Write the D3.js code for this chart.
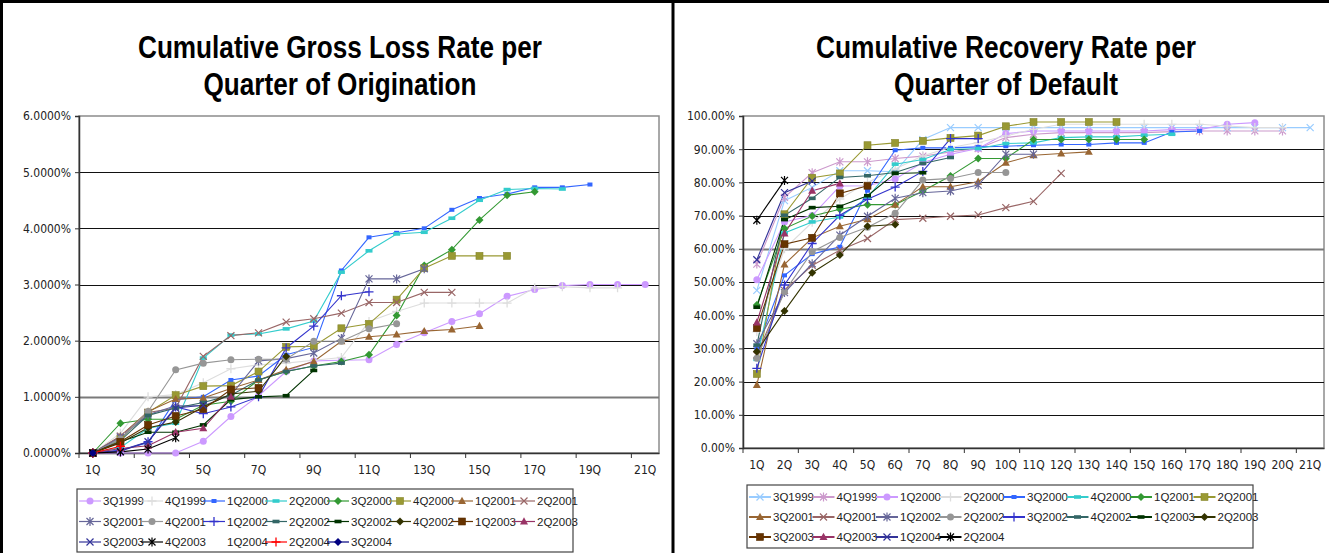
<!DOCTYPE html>
<html><head><meta charset="utf-8">
<script src="https://cdn.jsdelivr.net/npm/d3@7"></script>
<style>body{margin:0;background:#fff;} svg{display:block;}</style>
</head><body><svg id="c" width="1329" height="553"></svg>
<script>
// ---------------- DATA ----------------
const quarters = d3.range(1, 22).map(i => i + "Q");
const lossTickLabels = ["1Q","3Q","5Q","7Q","9Q","11Q","13Q","15Q","17Q","19Q","21Q"];
const lossYTicks = [0,1,2,3,4,5,6];
const recYTicks = [0,10,20,30,40,50,60,70,80,90,100];

// Cumulative gross loss rate (%) per quarter of origination
const gl3Q1999 = [0,0,0,0,0.21,0.65,1.02,1.45,1.64,1.65,1.66,1.93,2.14,2.34,2.48,2.79,2.91,2.98,3.0,3.0,3.0];
const gl4Q1999 = [0,0.35,1.0,1.04,1.25,1.5,1.57,1.6,1.65,1.7,2.34,2.52,2.67,2.67,2.67,2.67,2.94,2.96,2.94,2.94];
const gl1Q2000 = [0,0.05,0.18,0.95,1.0,1.3,1.37,1.75,1.88,3.25,3.84,3.92,4.0,4.33,4.54,4.61,4.73,4.73,4.78];
const gl2Q2000 = [0,0.1,0.44,0.53,1.69,2.1,2.12,2.21,2.35,3.22,3.6,3.9,3.93,4.18,4.5,4.69,4.71,4.7];
const gl3Q2000 = [0,0.53,0.6,0.6,0.85,0.92,1.3,1.45,1.55,1.63,1.75,2.45,3.34,3.62,4.15,4.59,4.65];
const gl4Q2000 = [0,0.25,0.72,1.03,1.19,1.2,1.45,1.89,1.9,2.22,2.3,2.73,3.29,3.51,3.51,3.51];
const gl1Q2001 = [0,0.3,0.74,0.96,0.98,1.15,1.3,1.48,1.63,1.99,2.07,2.11,2.17,2.2,2.26];
const gl2Q2001 = [0,0.3,0.72,0.8,1.72,2.09,2.14,2.33,2.39,2.49,2.68,2.68,2.86,2.86];
const gl3Q2001 = [0,0.28,0.68,0.84,0.84,1.03,1.64,1.68,1.78,2.04,3.1,3.1,3.28];
const gl4Q2001 = [0,0.25,0.74,1.48,1.6,1.66,1.67,1.67,1.99,1.99,2.21,2.3];
const gl1Q2002 = [0,0.05,0.2,0.82,0.7,0.82,1.0,1.87,2.26,2.8,2.87];
const gl2Q2002 = [0,0.22,0.67,0.8,0.9,1.03,1.3,1.45,1.55,1.6];
const gl3Q2002 = [0,0.2,0.37,0.37,0.5,0.95,1.0,1.02,1.47];
const gl4Q2002 = [0,0.18,0.45,0.55,0.82,1.05,1.1,1.72];
const gl1Q2003 = [0,0.2,0.5,0.66,0.78,1.13,1.16];
const gl2Q2003 = [0,0.08,0.13,0.37,0.44,1.0];
const gl3Q2003 = [0,0.03,0.2,0.8,0.85];
const gl4Q2003 = [0,0.02,0.07,0.27];
const gl1Q2004 = [0,0.02];
const gl2Q2004 = [0,0.12];
const gl3Q2004 = [0];

const lossNames = ["3Q1999","4Q1999","1Q2000","2Q2000","3Q2000","4Q2000","1Q2001","2Q2001",
  "3Q2001","4Q2001","1Q2002","2Q2002","3Q2002","4Q2002","1Q2003","2Q2003",
  "3Q2003","4Q2003","1Q2004","2Q2004","3Q2004"];
const lossValues = [gl3Q1999,gl4Q1999,gl1Q2000,gl2Q2000,gl3Q2000,gl4Q2000,gl1Q2001,gl2Q2001,
  gl3Q2001,gl4Q2001,gl1Q2002,gl2Q2002,gl3Q2002,gl4Q2002,gl1Q2003,gl2Q2003,
  gl3Q2003,gl4Q2003,gl1Q2004,gl2Q2004,gl3Q2004];

// Cumulative recovery rate (%) per quarter of default
const rr3Q1999 = [47.5,74.5,78.5,83.5,83.5,83.2,92.9,96.5,96.5,96.5,96.5,96.5,96.5,96.5,96.5,96.5,96.5,96.5,96.5,96.5,96.5];
const rr4Q1999 = [55.4,75.5,82.9,86.2,86.2,87.2,87.9,89.2,90.2,93.5,94.5,95,95,95,95,95.3,95.5,95.5,95.5,95.5];
const rr1Q2000 = [50.7,68.1,70,78.9,79,81,86,88.5,90.2,94.7,95.5,95.5,95.5,95.5,95.5,95.9,95.9,97.5,98];
const rr2Q2000 = [35,60,68,75,80,84,88,90.5,92,94,96,97.5,97.5,97.5,97.5,97.5,97.5,97,96.5,96.5];
const rr3Q2000 = [30,52,58.4,60.6,77.5,89.7,90.4,90.4,90.7,90.9,91.2,91.4,91.4,91.9,91.9,95.2,95.5];
const rr4Q2000 = [26.7,64.8,68.1,69.6,75.4,85.5,86.9,89.9,90.2,91.7,91.9,93.5,93.7,93.7,94.2,94.5];
const rr1Q2001 = [43.1,66.1,69.9,71.9,73.3,73.3,77.4,81.9,87.2,87.2,92.9,92.9,92.9,92.9,92.9];
const rr2Q2001 = [22.3,70.4,81.4,82.7,91.2,91.9,92.5,93.4,94.1,96.9,98.2,98.2,98.2,98.2];
const rr3Q2001 = [19,55.3,63.3,66.8,68.9,73.3,78.7,78.7,80.2,85.9,88.2,88.7,89.2];
const rr4Q2001 = [28,47.5,55,59.6,63.1,68.8,69.2,69.8,70.2,72.4,74.3,82.7];
const rr1Q2002 = [31.4,46.8,55.5,64.1,69.8,75.2,76.9,77.4,79.2,88.5,88.5];
const rr2Q2002 = [27,47.1,59.1,63.4,66.5,70.7,80.7,81.2,83,83];
const rr3Q2002 = [24,49.1,61.6,70.1,74.9,78.6,83.3,93.2,93.2];
const rr4Q2002 = [31,70.1,75.2,81.5,82,83,85.7,87.5];
const rr1Q2003 = [42.4,68.8,72.4,72.8,76,82.7,82.9];
const rr2Q2003 = [29.1,41.3,52.8,58.1,66.8,67.3];
const rr3Q2003 = [36.1,61.4,63.3,76.7,79];
const rr4Q2003 = [37.8,64.6,77.5,79.7];
const rr1Q2004 = [56.7,76.9,80.4];
const rr2Q2004 = [68.6,80.6];

const recNames = ["3Q1999","4Q1999","1Q2000","2Q2000","3Q2000","4Q2000","1Q2001","2Q2001",
  "3Q2001","4Q2001","1Q2002","2Q2002","3Q2002","4Q2002","1Q2003","2Q2003",
  "3Q2003","4Q2003","1Q2004","2Q2004"];
const recValues = [rr3Q1999,rr4Q1999,rr1Q2000,rr2Q2000,rr3Q2000,rr4Q2000,rr1Q2001,rr2Q2001,
  rr3Q2001,rr4Q2001,rr1Q2002,rr2Q2002,rr3Q2002,rr4Q2002,rr1Q2003,rr2Q2003,
  rr3Q2003,rr4Q2003,rr1Q2004,rr2Q2004];

// ---------------- STYLES ----------------
const lossStyle = [
  ["#CC99FF","circle"],["#DDDDDD","plus"],["#3366FF","sq"],["#33CCCC","dash"],
  ["#339933","diamond"],["#999933","square"],["#996633","triangle"],["#996666","x"],
  ["#666699","star"],["#969696","circle"],["#3333CC","plus"],["#336666","dash"],
  ["#003300","dash"],["#333300","diamond"],["#663300","square"],["#993366","triangle"],
  ["#333399","x"],["#000000","star"],["none","none"],["#FF0000","plus"],["#000080","diamond"]
];
const recStyle = [
  ["#99CCFF","x"],["#CC99CC","star"],["#CC99FF","circle"],["#DDDDDD","plus"],
  ["#3366FF","sq"],["#33CCCC","dash"],["#339933","diamond"],["#999933","square"],
  ["#996633","triangle"],["#996666","x"],["#666699","star"],["#969696","circle"],
  ["#3333CC","plus"],["#336666","dash"],["#003300","dash"],["#333300","diamond"],
  ["#663300","square"],["#993366","triangle"],["#333399","x"],["#000000","star"]
];

const svg = d3.select("#c");
const TITLE_FONT = "'Liberation Sans','Arial',sans-serif";
const LABEL_FONT = "'DejaVu Sans Condensed','Liberation Sans Narrow','Arial Narrow',sans-serif";
const LEG_FONT = "'Liberation Sans','Arial',sans-serif";

function drawMarker(g, type, color) {
  if (type === "none" || color === "none") return;
  if (type === "circle") g.append("circle").attr("r", 3.5).attr("fill", color);
  else if (type === "square") g.append("rect").attr("x",-3.5).attr("y",-3.5).attr("width",7).attr("height",7)
      .attr("fill", color).attr("stroke", d3.color(color).darker(0.4)).attr("stroke-width",0.6);
  else if (type === "sq") g.append("rect").attr("x",-2.5).attr("y",-2).attr("width",5).attr("height",4).attr("fill", color);
  else if (type === "dash") g.append("rect").attr("x",-3.5).attr("y",-1.8).attr("width",7).attr("height",3.6).attr("fill", color);
  else if (type === "diamond") g.append("path").attr("d","M0,-4L4,0L0,4L-4,0Z").attr("fill", color);
  else if (type === "triangle") g.append("path").attr("d","M0,-4.2L4,3L-4,3Z").attr("fill", color);
  else if (type === "plus") g.append("path").attr("d","M-4.5,0H4.5M0,-4.5V4.5").attr("stroke", color).attr("stroke-width",1.3);
  else if (type === "x") g.append("path").attr("d","M-3.5,-3.5L3.5,3.5M-3.5,3.5L3.5,-3.5").attr("stroke", color).attr("stroke-width",1.2);
  else if (type === "star") g.append("path").attr("d","M-3.5,-3.5L3.5,3.5M-3.5,3.5L3.5,-3.5M0,-4.5V4.5").attr("stroke", color).attr("stroke-width",1.2);
}

function drawChart(cfg) {
  const g = svg.append("g");
  const x = d3.scaleBand().domain(quarters).range([cfg.left, cfg.right]).padding(0);
  const y = d3.scaleLinear().domain(cfg.domain).range([cfg.bottom, cfg.top]);
  const bw = x.bandwidth();

  // plot area border
  g.append("rect").attr("x", cfg.left).attr("y", cfg.top)
    .attr("width", cfg.right - cfg.left).attr("height", cfg.bottom - cfg.top)
    .attr("fill", "none").attr("stroke", "#8c8c8c").attr("stroke-width", 1.5);

  // gridlines
  cfg.yTicks.filter(t => t > cfg.domain[0] && t < cfg.domain[1]).forEach(t => {
    const special = t === cfg.special;
    g.append("line").attr("x1", cfg.left).attr("x2", cfg.right)
      .attr("y1", Math.round(y(t)) + 0.5).attr("y2", Math.round(y(t)) + 0.5)
      .attr("stroke", special ? "#7a7a7a" : "#111").attr("stroke-width", special ? 2.2 : 1);
  });

  // y axis
  const ya = d3.axisLeft(y).tickValues(cfg.yTicks).tickSize(4).tickPadding(4).tickFormat(cfg.fmt);
  const yg = g.append("g").attr("transform", `translate(${cfg.left},0)`).call(ya);
  yg.select(".domain").attr("stroke", "#333").attr("stroke-width", 1.5);
  yg.selectAll(".tick line").attr("stroke", "#333");
  yg.selectAll("text").attr("font-family", LABEL_FONT).attr("font-size", cfg.yFont).attr("fill", "#222");

  // x axis labels
  const xa = d3.axisBottom(x).tickValues(cfg.xLabels).tickSize(0).tickPadding(cfg.xPad);
  const xg = g.append("g").attr("transform", `translate(0,${cfg.bottom})`).call(xa);
  xg.select(".domain").attr("stroke", "#333").attr("stroke-width", 1.5);
  xg.selectAll("text").attr("font-family", LABEL_FONT).attr("font-size", cfg.xFont).attr("fill", "#222");
  // x tick marks at every second band boundary
  quarters.forEach((q, i) => {
    if (i % 2 === 0) {
      g.append("line").attr("x1", x(q)).attr("x2", x(q)).attr("y1", cfg.bottom).attr("y2", cfg.bottom + 5)
        .attr("stroke", "#333").attr("stroke-width", 1);
    }
  });

  // series
  const line = d3.line().x((d, i) => x(quarters[i]) + bw / 2).y(d => y(d));
  cfg.values.forEach((vals, si) => {
    const [color, mk] = cfg.styles[si];
    if (color === "none") return;
    g.append("path").attr("d", line(vals)).attr("fill", "none").attr("stroke", color).attr("stroke-width", 1.1);
  });
  cfg.values.forEach((vals, si) => {
    const [color, mk] = cfg.styles[si];
    vals.forEach((v, i) => {
      const mg = g.append("g").attr("transform", `translate(${x(quarters[i]) + bw / 2},${y(v)})`);
      drawMarker(mg, mk, color);
    });
  });

  // title (narrow bold look)
  cfg.title.forEach((t, i) => {
    g.append("text").attr("x", cfg.titleX).attr("y", cfg.titleY + i * 37).attr("text-anchor", "middle")
      .attr("font-family", TITLE_FONT).attr("font-weight", "bold").attr("font-size", 32)
      .attr("textLength", cfg.titleW[i]).attr("lengthAdjust", "spacingAndGlyphs")
      .attr("fill", "#000").text(t);
  });

  // legend
  const L = cfg.legend;
  g.append("rect").attr("x", L.x).attr("y", L.y).attr("width", L.w).attr("height", L.h)
    .attr("fill", "#fff").attr("stroke", "#444").attr("stroke-width", 1.2);
  cfg.names.forEach((n, i) => {
    const col = i % 8, row = Math.floor(i / 8);
    const lx = L.x + L.padX + col * L.colW;
    const ly = L.y + L.padY + row * L.rowH;
    const [color, mk] = cfg.styles[i];
    if (color !== "none") {
      g.append("line").attr("x1", lx).attr("x2", lx + 22).attr("y1", ly).attr("y2", ly)
        .attr("stroke", color).attr("stroke-width", L.lw);
      drawMarker(g.append("g").attr("transform", `translate(${lx + 11},${ly})`), mk, color);
    }
    g.append("text").attr("x", lx + 24).attr("y", ly + 4).attr("font-family", LEG_FONT)
      .attr("font-size", 11.5).attr("fill", "#222").text(n);
  });
}

// Left chart
drawChart({
  left: 79, right: 659, top: 116, bottom: 453, domain: [0, 6],
  yTicks: lossYTicks, fmt: d => d.toFixed(4) + "%", special: 1,
  xLabels: lossTickLabels, xPad: 12, xFont: 12, yFont: 12,
  values: lossValues, styles: lossStyle, names: lossNames,
  title: ["Cumulative Gross Loss Rate per", "Quarter of Origination"], titleX: 340, titleY: 58, titleW: [404, 273],
  legend: { x: 77, y: 489, w: 496, h: 63, padX: 2, padY: 12, colW: 62, rowH: 20.5, lw: 1.2 }
});

// Right chart
drawChart({
  left: 743, right: 1324, top: 116, bottom: 448, domain: [0, 100],
  yTicks: recYTicks, fmt: d => d.toFixed(2) + "%", special: 60,
  xLabels: quarters, xPad: 12, xFont: 12, yFont: 12,
  values: recValues, styles: recStyle, names: recNames,
  title: ["Cumulative Recovery Rate per", "Quarter of Default"], titleX: 1006, titleY: 58, titleW: [380, 224],
  legend: { x: 747, y: 485, w: 506, h: 63, padX: 2, padY: 12, colW: 63.5, rowH: 20, lw: 2 }
});

// frame
svg.append("line").attr("x1", 0).attr("x2", 1329).attr("y1", 1.5).attr("y2", 1.5).attr("stroke", "#000").attr("stroke-width", 3);
svg.append("line").attr("x1", 1.5).attr("x2", 1.5).attr("y1", 0).attr("y2", 553).attr("stroke", "#000").attr("stroke-width", 3);
svg.append("line").attr("x1", 673).attr("x2", 673).attr("y1", 0).attr("y2", 553).attr("stroke", "#000").attr("stroke-width", 3);
</script></body></html>
